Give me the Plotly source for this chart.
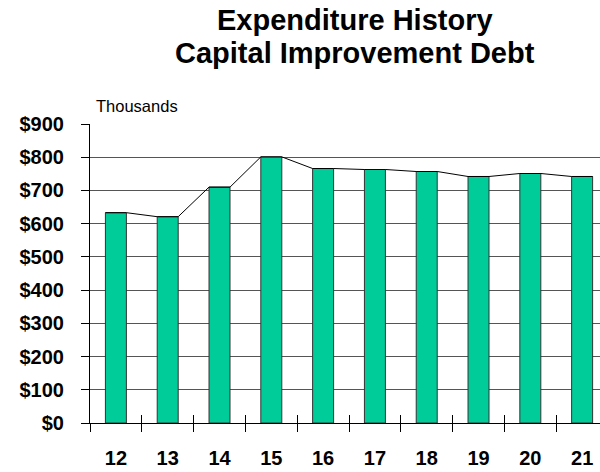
import numpy as np
import plotly.graph_objects as go

categories = ["12", "13", "14", "15", "16", "17", "18", "19", "20", "21"]
spending = [633, 621, 710, 801, 766, 763, 757, 742, 751, 742]
title_lines = ["Expenditure History", "Capital Improvement Debt"]
unit_label = "Thousands"

FONT = "Arial, Liberation Sans, sans-serif"
BAR_W = 0.405
n = len(categories)
idx = np.arange(n)

fig = go.Figure()
fig.add_trace(go.Bar(
    x=categories, y=spending, width=BAR_W,
    marker=dict(color="#00CC99", line=dict(color="#333333", width=1)),
    hoverinfo="x+y", showlegend=False,
))
# line linking the bar tops (runs along each bar top, edge to edge)
lx, ly = [], []
for i, v in zip(idx, spending):
    lx += [i - BAR_W / 2, i + BAR_W / 2]
    ly += [v, v]
fig.add_trace(go.Scatter(
    x=lx, y=ly, mode="lines", xaxis="x2", yaxis="y",
    line=dict(color="black", width=1), hoverinfo="skip", showlegend=False,
))

xr = [-0.5, 9.345]
fig.update_layout(
    width=600, height=472,
    margin=dict(l=90, r=0, t=124, b=49),
    paper_bgcolor="white", plot_bgcolor="white",
    font=dict(family=FONT, color="black"),
    xaxis=dict(
        type="category", range=xr, tickson="boundaries",
        ticks="outside", ticklen=8, tickcolor="black", tickwidth=1,
        showline=True, linecolor="black", linewidth=1,
        showgrid=False, zeroline=False,
        tickfont=dict(family=FONT, size=20, color="black", weight="bold"),
        ticklabelstandoff=17,
    ),
    xaxis2=dict(
        overlaying="x", anchor="y", side="bottom", range=xr,
        tickmode="array", tickvals=list(idx[:-1] + 0.5),
        ticks="inside", ticklen=8, tickcolor="black", tickwidth=1,
        showticklabels=False, showgrid=False, zeroline=False, showline=False,
    ),
    yaxis=dict(
        range=[0, 900], tickmode="linear", tick0=0, dtick=100,
        tickprefix="$", tickformat="d",
        ticks="outside", ticklen=8, tickcolor="black", tickwidth=1,
        showline=True, linecolor="black", linewidth=1,
        showgrid=True, gridcolor="#555555", gridwidth=1,
        zeroline=False,
        tickfont=dict(family=FONT, size=20, color="black", weight="bold"),
        ticklabelstandoff=13,
    ),
    annotations=[
        dict(text=f"<b>{title_lines[0]}</b>", xref="paper", yref="paper",
             x=0.52, y=1.0, yshift=104, xanchor="center", yanchor="middle",
             showarrow=False, font=dict(family=FONT, size=29, color="black")),
        dict(text=f"<b>{title_lines[1]}</b>", xref="paper", yref="paper",
             x=0.52, y=1.0, yshift=71, xanchor="center", yanchor="middle",
             showarrow=False, font=dict(family=FONT, size=29, color="black")),
        dict(text=unit_label, xref="paper", yref="paper",
             x=0.0, xshift=4, y=1.0, yshift=18, xanchor="left", yanchor="middle",
             showarrow=False, font=dict(family=FONT, size=16.5, color="black")),
    ],
)

fig.write_html("out.html", config={"displayModeBar": False},
               post_script="document.body.style.margin='0';")
